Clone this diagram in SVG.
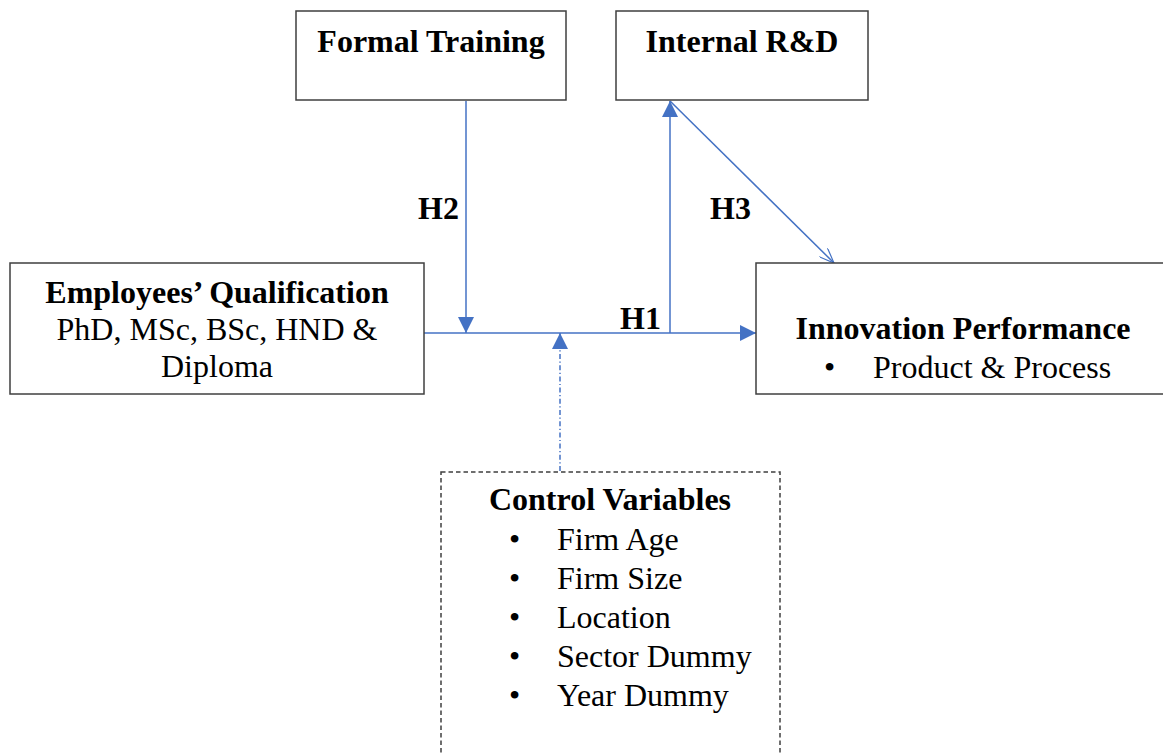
<svg xmlns="http://www.w3.org/2000/svg" width="1163" height="753" viewBox="0 0 1163 753">
<style>
.box{fill:#fff;stroke:#3f3f3f;stroke-width:1.5}
.dbox{fill:#fff;stroke:#3f3f3f;stroke-width:1.5;stroke-dasharray:4.5 3}
.t{font-family:'Liberation Serif',Tinos,'Times New Roman',Times,serif;font-size:32px;fill:#000}
.b{font-weight:bold}
.c{text-anchor:middle}
.ln{stroke:#4472c4;stroke-width:1.5;fill:none}
.dd{stroke-dasharray:5 2.5 1.2 2.5}
</style>
<defs>
<marker id="fa" viewBox="0 0 16 16" refX="16" refY="8" markerWidth="16" markerHeight="16" markerUnits="userSpaceOnUse" orient="auto">
<path d="M0,0 L16,8 L0,16 Z" fill="#4472c4"/>
</marker>
<marker id="oa" viewBox="0 0 16 12" refX="15" refY="6" markerWidth="16" markerHeight="12" markerUnits="userSpaceOnUse" orient="auto">
<path d="M0,0 L15,6 L0,12" fill="none" stroke="#4472c4" stroke-width="1.2"/>
</marker>
</defs>
<rect width="1163" height="753" fill="#fff"/>
<g id="connectors">
<line class="ln" x1="466" y1="101" x2="466" y2="333" marker-end="url(#fa)"/>
<line class="ln" x1="424" y1="333" x2="756" y2="333" marker-end="url(#fa)"/>
<line class="ln" x1="670" y1="333" x2="670" y2="101" marker-end="url(#fa)"/>
<line class="ln" x1="670" y1="101" x2="834" y2="263" marker-end="url(#oa)"/>
<line class="ln dd" x1="560" y1="471" x2="560" y2="333" marker-end="url(#fa)"/>
<text class="t b" x="418" y="219">H2</text>
<text class="t b" x="710" y="219">H3</text>
<text class="t b" x="620" y="329">H1</text>
</g>
<g id="formal-training">
<rect class="box" x="296" y="11" width="270" height="89"/>
<text class="t b c" x="431" y="52">Formal Training</text>
</g>
<g id="internal-rd">
<rect class="box" x="616" y="11" width="252" height="89"/>
<text class="t b c" x="742" y="52">Internal R&amp;D</text>
</g>
<g id="employees-qualification">
<rect class="box" x="10" y="263" width="414" height="131"/>
<text class="t b c" x="217" y="303">Employees’ Qualification</text>
<text class="t c" x="217" y="340">PhD, MSc, BSc, HND &amp;</text>
<text class="t c" x="217" y="377">Diploma</text>
</g>
<g id="innovation-performance">
<rect class="box" x="756" y="263" width="414" height="131"/>
<text class="t b c" x="963" y="339">Innovation Performance</text>
<text class="t" y="378"><tspan x="824">•</tspan><tspan x="873">Product &amp; Process</tspan></text>
</g>
<g id="control-variables">
<rect class="dbox" x="441" y="472" width="339" height="300"/>
<text class="t b c" x="610" y="510">Control Variables</text>
<text class="t" y="550"><tspan x="509">•</tspan><tspan x="557">Firm Age</tspan></text>
<text class="t" y="589"><tspan x="509">•</tspan><tspan x="557">Firm Size</tspan></text>
<text class="t" y="628"><tspan x="509">•</tspan><tspan x="557">Location</tspan></text>
<text class="t" y="667"><tspan x="509">•</tspan><tspan x="557">Sector Dummy</tspan></text>
<text class="t" y="706"><tspan x="509">•</tspan><tspan x="557">Year Dummy</tspan></text>
</g>
</svg>
